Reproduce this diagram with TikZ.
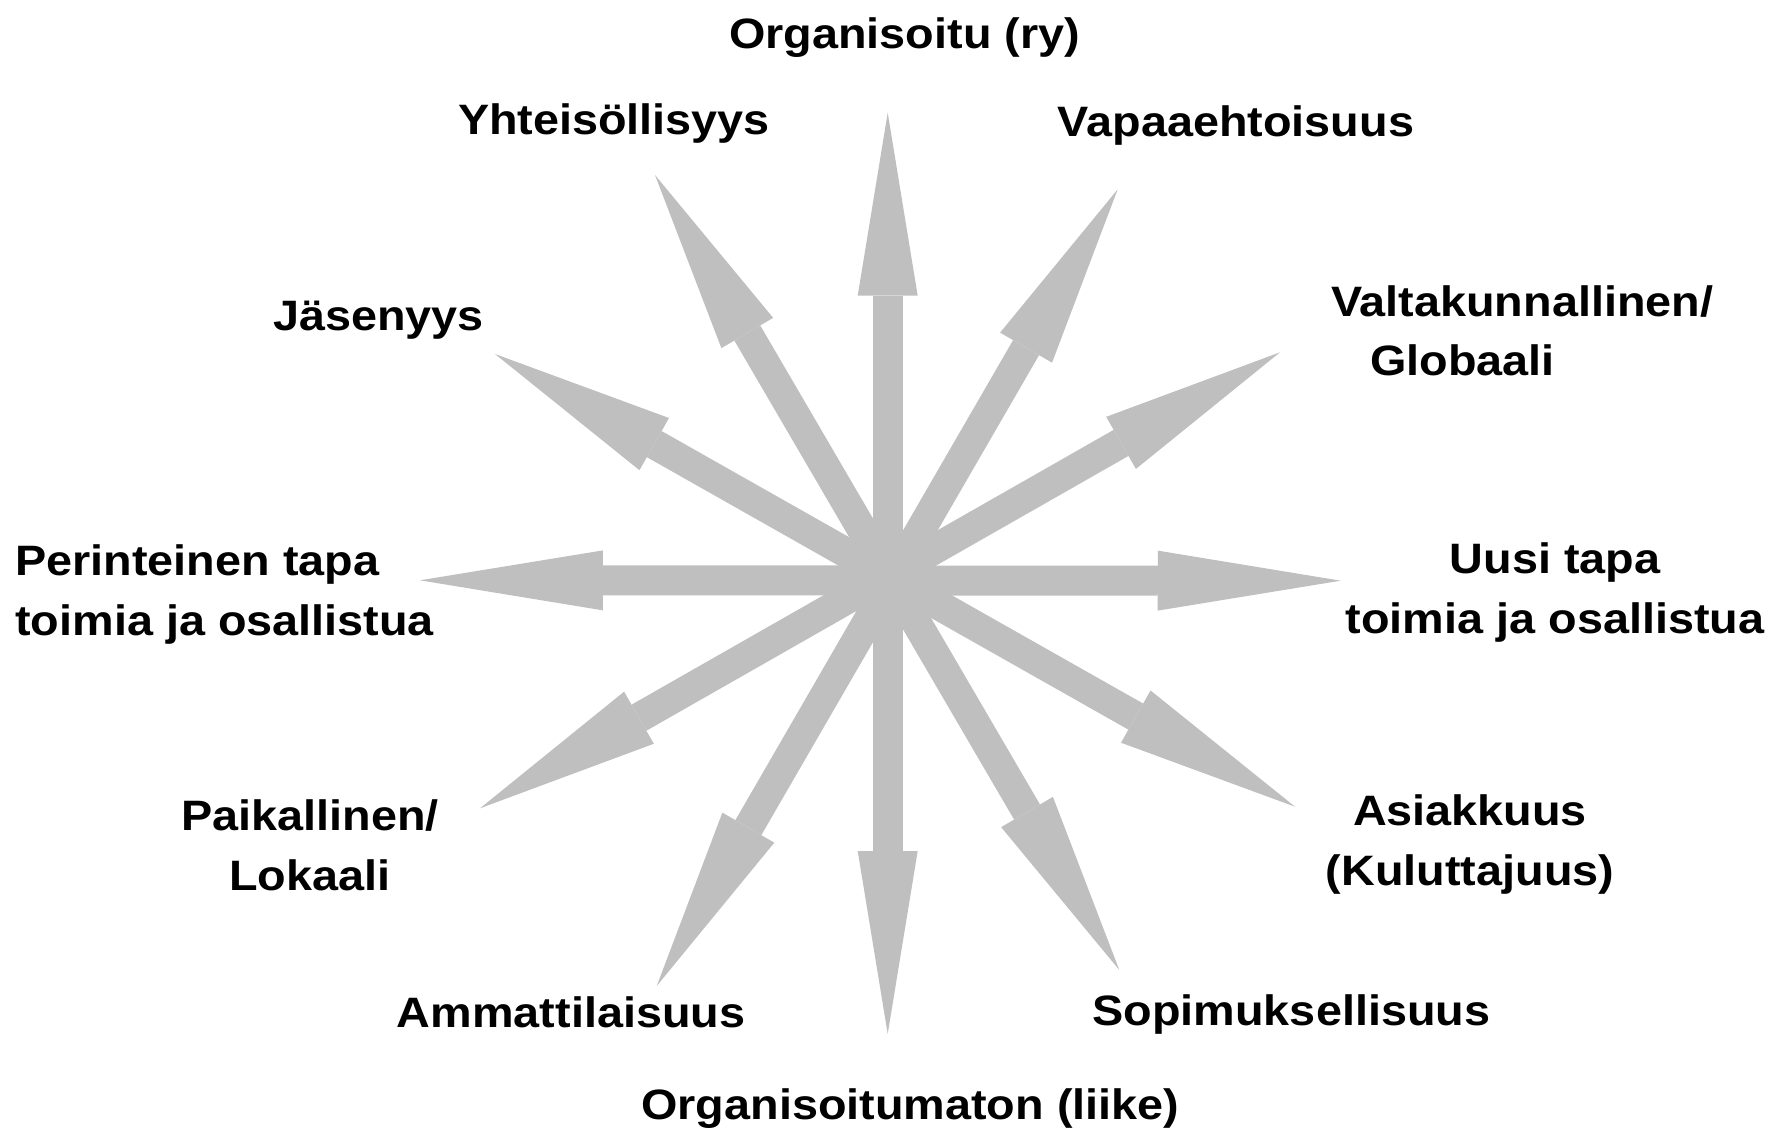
\documentclass[tikz,border=0pt]{standalone}
\usepackage{fontspec}
\setmainfont{Liberation Sans}[FakeStretch=1.1]
\usetikzlibrary{arrows.meta}
\definecolor{arrowgray}{HTML}{BFBFBF}

\begin{document}
\begin{tikzpicture}[
  x=0.02cm, y=-0.02cm,
  every node/.style={inner sep=0pt, align=center, font=\fontsize{24.2pt}{34pt}\selectfont\bfseries},
  spoke/.style={draw=arrowgray, line width=0.6cm, {Triangle[length=3.66cm, width=1.2cm, line width=0pt]}-{Triangle[length=3.66cm, width=1.2cm, line width=0pt]}}
]
\useasboundingbox (0,0) rectangle (1791,1128);

% Arrow tips
\coordinate (tip0) at (1340.7,580.7);
\coordinate (tip30) at (1280,352.3);
\coordinate (tip60) at (1117.7,189.3);
\coordinate (tip90) at (887.7,112.7);
\coordinate (tip120) at (655,175);
\coordinate (tip150) at (495,354);
\coordinate (tip180) at (420,580.3);
\coordinate (tip210) at (480,808.3);
\coordinate (tip240) at (656.7,986);
\coordinate (tip270) at (887.7,1034);
\coordinate (tip300) at (1119.3,970);
\coordinate (tip330) at (1295,806.7);

% Arrows
\draw[spoke] (tip90) -- (tip270);
\draw[spoke] (tip180) -- (tip0);
\draw[spoke] (tip210) -- (tip30);
\draw[spoke] (tip240) -- (tip60);
\draw[spoke] (tip120) -- (tip300);
\draw[spoke] (tip150) -- (tip330);

% Labels
\node[anchor=base] (label_org) at (904.6,49) {Organisoitu (ry)};
\node[anchor=base] (label_yht) at (614,135) {Yhteisöllisyys};
\node[anchor=base] (label_vap) at (1236,136.5) {Vapaaehtoisuus};
\node[anchor=base] (label_jas) at (378.6,331) {Jäsenyys};
\node[anchor=base west, align=left] (label_val) at (1330.7,376) {Valtakunnallinen/\\\hspace*{0.786cm}Globaali};
\node[anchor=base west, align=left] (label_per) at (15,635) {Perinteinen tapa\\toimia ja osallistua};
\node[anchor=base] (label_uusi) at (1555,633) {Uusi tapa\\toimia ja osallistua};
\node[anchor=base] (label_paik) at (310,890) {Paikallinen/\\Lokaali};
\node[anchor=base] (label_asi) at (1470,885) {Asiakkuus\\(Kuluttajuus)};
\node[anchor=base] (label_amm) at (571.1,1027.5) {Ammattilaisuus};
\node[anchor=base] (label_sop) at (1291.3,1025.4) {Sopimuksellisuus};
\node[anchor=base] (label_orgm) at (910.3,1119) {Organisoitumaton (liike)};

\end{tikzpicture}
\end{document}
